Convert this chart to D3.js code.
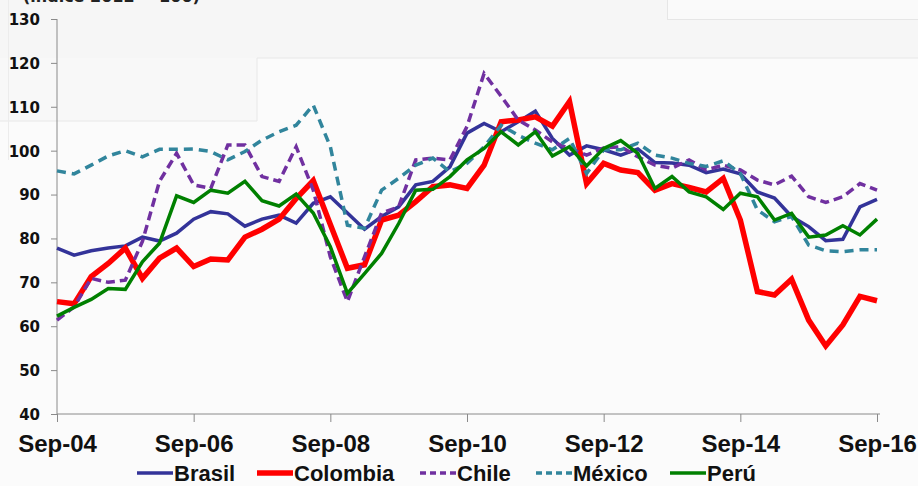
<!DOCTYPE html>
<html>
<head>
<meta charset="utf-8">
<script src="https://cdn.jsdelivr.net/npm/d3@7"></script>
<style>
  body { margin: 0; background: #fbfbfb; }
  .ytick text { font-family: "DejaVu Sans", sans-serif; font-weight: bold; font-size: 15px; fill: #111; }
  .xtick text { font-family: "Liberation Sans Narrow", "Arial Narrow", sans-serif; font-weight: bold; font-size: 24px; fill: #111; }
  .legend text { font-family: "Liberation Sans Narrow", "Arial Narrow", sans-serif; font-weight: bold; font-size: 22px; fill: #111; }
  .line { fill: none; stroke-linejoin: miter; }
</style>
</head>
<body>
<svg width="918" height="486"></svg>
<script>
// quarterly index, Sep-04 .. Sep-16 (2012 = 100)
var tickLabels = ["Sep-04", "Sep-06", "Sep-08", "Sep-10", "Sep-12", "Sep-14", "Sep-16"];
var yTicks = [40, 50, 60, 70, 80, 90, 100, 110, 120, 130];

var brasil = [77.8, 76.2, 77.2, 77.8, 78.3, 80.3, 79.4, 81.2, 84.4, 86.1, 85.6, 82.8, 84.4, 85.3, 83.5, 88, 89.5,
  85.8, 82.1, 85, 87.2, 92.2, 93, 96.3, 104, 106.2, 104.3, 106.6, 109, 102.8, 99, 101.1, 100.2,
  99, 100.4, 97.3, 97.2, 96.7, 95, 95.8, 94.7, 90.6, 89.2, 85, 82.7, 79.5, 79.8, 87.2, 88.9];
var colombia = [65.6, 65.1, 71.3, 74.3, 77.8, 70.9, 75.5, 77.8, 73.6, 75.3, 75.1, 80.3, 82.1, 84.4, 89.1, 93.2, 83.2,
  73.2, 74, 84.2, 85.3, 88.4, 91.8, 92.2, 91.4, 96.7, 106.6, 107, 107.7, 105.6, 111.2, 92.5, 97.1,
  95.6, 95, 91, 92.5, 91.6, 90.6, 93.7, 84.2, 67.9, 67.1, 70.7, 61.4, 55.5, 60.3, 66.8, 65.8];
var chile = [61.4, 64.4, 70.9, 70, 70.5, 79.3, 93, 99.4, 92.2, 91.4, 101.3, 101.3, 94.1, 93, 100.9, 91, 75.8,
  65.6, 75.8, 85.8, 87.2, 97.9, 98.3, 97.9, 105.5, 117.6, 112.4, 107, 104.7, 102, 100.5, 99, 100.6,
  100.9, 98.6, 96.7, 96, 97.9, 95.6, 96.7, 95.6, 93.3, 92.2, 94.2, 89.5, 88.2, 89.5, 92.5, 91];
var mexico = [95.4, 94.7, 96.7, 98.8, 100, 98.6, 100.3, 100.3, 100.4, 99.8, 97.9, 99.8, 102.4, 104.3, 105.8, 110.4, 100.9,
  83, 82.3, 91, 93.7, 96.7, 98.3, 95.2, 97.1, 100.9, 105.8, 103.5, 101.7, 100.2, 102.8, 94.8, 100.2,
  100.2, 101.7, 99, 98.3, 97.1, 96.4, 97.7, 94.8, 86.5, 83.8, 85, 78.5, 77.2, 77, 77.4, 77.4];
var peru = [62.3, 64.3, 66.1, 68.6, 68.4, 74.7, 78.9, 89.7, 88.2, 91, 90.3, 93, 88.6, 87.4, 90.1, 85.8, 78.1,
  67.5, 72, 76.6, 83.4, 91, 91.2, 94.1, 97.9, 100.5, 104.3, 101.3, 104.3, 98.8, 100.9, 96.5, 100.5,
  102.3, 99.4, 91.4, 94.1, 90.6, 89.5, 86.6, 90.3, 89.5, 84.2, 85.7, 80.3, 80.8, 82.9, 80.8, 84.4];

var series = [
  { name: "Brasil", values: brasil, color: "#333399", width: 3.5, dash: null },
  { name: "Colombia", values: colombia, color: "#ff0000", width: 5.5, dash: null },
  { name: "Chile", values: chile, color: "#7030a0", width: 3.5, dash: "9,5" },
  { name: "México", values: mexico, color: "#31859c", width: 3.5, dash: "9,6" },
  { name: "Perú", values: peru, color: "#008000", width: 3.5, dash: null }
];

// quarter labels: Sep-04, Dec-04, Mar-05, ...
var months = ["Sep", "Dec", "Mar", "Jun"];
var quarters = d3.range(brasil.length).map(function (i) {
  var yr = 4 + Math.floor((i + 1) / 4);
  return months[i % 4] + "-" + (yr < 10 ? "0" + yr : yr);
});

var svg = d3.select("svg");
var width = +svg.attr("width");
var height = +svg.attr("height");

// faint slide background
var bg = svg.append("g");
bg.append("rect").attr("x", 0).attr("y", 0).attr("width", width).attr("height", 58).attr("fill", "#f6f6f6");
bg.append("rect").attr("x", 0).attr("y", 58).attr("width", 257).attr("height", 63).attr("fill", "#f8f8f8");
bg.append("path").attr("d", "M0,121H257V58H918").attr("fill", "none").attr("stroke", "#e8e8e8");
bg.append("rect").attr("x", 667.5).attr("y", -2).attr("width", 260).attr("height", 21.5)
  .attr("fill", "#fafafa").attr("stroke", "#e6e6e6");
bg.append("line").attr("x1", 8.5).attr("x2", 8.5).attr("y1", 0).attr("y2", 160).attr("stroke", "#ececec");

svg.append("text")
  .text("(índice 2012 = 100)")
  .attr("x", 23).attr("y", 2)
  .style("font-family", "DejaVu Sans, sans-serif").style("font-weight", "bold").style("font-size", "16px")
  .attr("fill", "#222");

var margin = { top: 19, right: 41, left: 57, bottom: 72 };
var innerWidth = width - margin.left - margin.right;
var innerHeight = height - margin.top - margin.bottom;

var xScale = d3.scalePoint().domain(quarters).range([0, innerWidth]);
var yScale = d3.scaleLinear().domain([40, 130]).range([innerHeight, 0]);

var g = svg.append("g").attr("transform", "translate(" + margin.left + "," + margin.top + ")");

// y axis
var yAxis = d3.axisLeft(yScale).tickValues(yTicks).tickSize(6).tickPadding(11);
var yAxisGroup = g.append("g").attr("class", "ytick").call(yAxis);
yAxisGroup.selectAll("line, .domain").attr("stroke", "#8a8a8a");
yAxisGroup.select(".domain").attr("d", "M0," + innerHeight + "V0");
yAxisGroup.selectAll("text").attr("dy", "0.36em");

// x axis
var xAxis = d3.axisBottom(xScale).tickValues(tickLabels).tickSize(8).tickPadding(13).tickSizeOuter(0);
var xAxisGroup = g.append("g").attr("class", "xtick")
  .attr("transform", "translate(0," + innerHeight + ")").call(xAxis);
xAxisGroup.selectAll("line, .domain").attr("stroke", "#8a8a8a");
xAxisGroup.select(".domain").attr("d", "M0,0H" + (innerWidth + 3));

// lines
var lineGenerator = d3.line()
  .x(function (d, i) { return xScale(quarters[i]); })
  .y(function (d) { return yScale(d); });

g.selectAll(".line").data(series).enter()
  .append("path")
  .attr("class", "line")
  .attr("d", function (d) { return lineGenerator(d.values); })
  .attr("stroke", function (d) { return d.color; })
  .attr("stroke-width", function (d) { return d.width; })
  .attr("stroke-dasharray", function (d) { return d.dash; });

// legend
var legendX = [137, 257, 420, 536, 670];
var legend = svg.append("g").attr("class", "legend");
var items = legend.selectAll("g").data(series).enter().append("g")
  .attr("transform", function (d, i) { return "translate(" + legendX[i] + ",473)"; });
items.append("line")
  .attr("x1", 0).attr("x2", 36).attr("y1", 0).attr("y2", 0)
  .attr("stroke", function (d) { return d.color; })
  .attr("stroke-width", function (d) { return d.width; })
  .attr("stroke-dasharray", function (d) { return d.dash ? "6,4" : null; });
items.append("text")
  .text(function (d) { return d.name; })
  .attr("x", 37).attr("y", 8);
</script>
</body>
</html>
